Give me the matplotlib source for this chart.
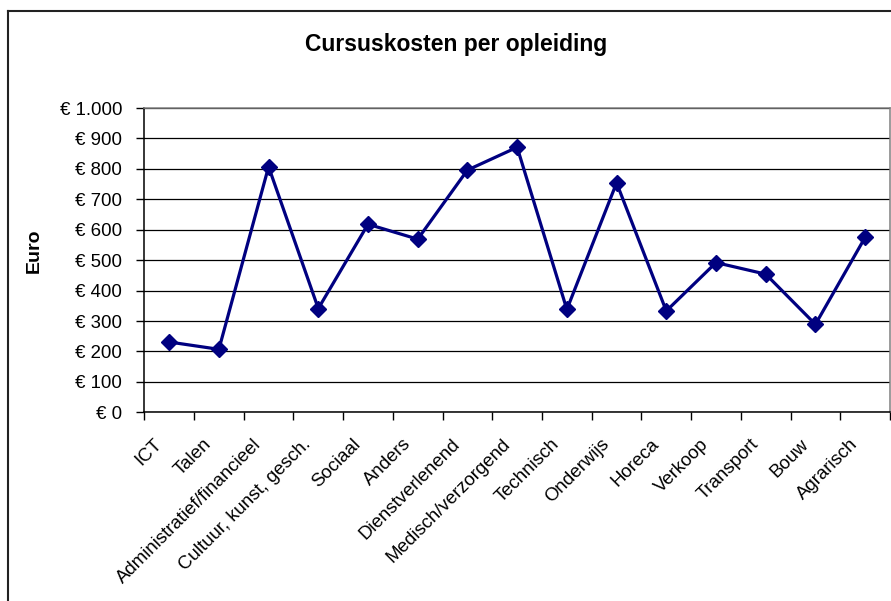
import matplotlib
matplotlib.use("Agg")
import matplotlib.pyplot as plt
from matplotlib.lines import Line2D
from matplotlib.ticker import FixedLocator, NullFormatter

plt.rcParams["font.family"] = ["Liberation Sans", "DejaVu Sans"]

categories = ["ICT", "Talen", "Administratief/financieel", "Cultuur, kunst, gesch.",
              "Sociaal", "Anders", "Dienstverlenend", "Medisch/verzorgend",
              "Technisch", "Onderwijs", "Horeca", "Verkoop", "Transport",
              "Bouw", "Agrarisch"]
kosten = [231, 207, 807, 341, 618, 569, 796, 871, 338, 754, 333, 492, 454, 289, 575]
y_ticks = [0, 100, 200, 300, 400, 500, 600, 700, 800, 900, 1000]
y_labels = ["€ 0", "€ 100", "€ 200", "€ 300", "€ 400", "€ 500", "€ 600",
            "€ 700", "€ 800", "€ 900", "€ 1.000"]

W, H = 891, 601
fig = plt.figure(figsize=(W / 100, H / 100), dpi=100)
fig.patch.set_facecolor("white")

left, right, top, bottom = 144.3, 890.0, 108.0, 412.3
ax = fig.add_axes([left / W, 1 - bottom / H, (right - left) / W, (bottom - top) / H])

x = list(range(len(categories)))
ax.plot(x, kosten, color="#000080", linewidth=2.3, marker="D", markersize=8,
        markerfacecolor="#000080", markeredgecolor="#000080", markeredgewidth=1,
        zorder=3, clip_on=False)

ax.set_xlim(-0.5, len(categories) - 0.5)
ax.set_ylim(0, 1000)

# horizontal gridlines
ax.set_yticks(y_ticks)
ax.set_yticklabels(y_labels, fontsize=13.4)
ax.yaxis.grid(True, color="black", linewidth=0.9)
ax.set_axisbelow(True)
ax.tick_params(axis="y", direction="out", length=6, width=1, pad=10, colors="black")

# category ticks sit between the categories, labels at the centres
ax.xaxis.set_major_locator(FixedLocator([i - 0.5 for i in range(len(categories) + 1)]))
ax.xaxis.set_major_formatter(NullFormatter())
ax.tick_params(axis="x", direction="out", length=6, width=1)
for i, name in enumerate(categories):
    ax.annotate(name, xy=(i, 0), xycoords="data", xytext=(-7, -21),
                textcoords="offset points", ha="right", va="center",
                rotation=45, rotation_mode="anchor", fontsize=13.4)

for side in ("left", "bottom"):
    ax.spines[side].set_color("black")
    ax.spines[side].set_linewidth(1.1)
for side in ("top", "right"):
    ax.spines[side].set_color("#808080")
    ax.spines[side].set_linewidth(1.1)

fig.text(456 / W, 1 - 44 / H, "Cursuskosten per opleiding", ha="center",
         va="center", fontsize=16.5, fontweight="bold")
fig.text(34 / W, 1 - 251 / H, "Euro", ha="center", va="center", rotation=90,
         fontsize=14, fontweight="bold")

# chart area border (left and top edges)
fig.add_artist(Line2D([7.5 / W, 7.5 / W], [0, 1 - 11 / H], transform=fig.transFigure,
                      color="#222222", linewidth=1.5))
fig.add_artist(Line2D([7.5 / W, 1], [1 - 11 / H, 1 - 11 / H], transform=fig.transFigure,
                      color="#222222", linewidth=1.5))

fig.savefig("out.png", dpi=100, facecolor="white")
